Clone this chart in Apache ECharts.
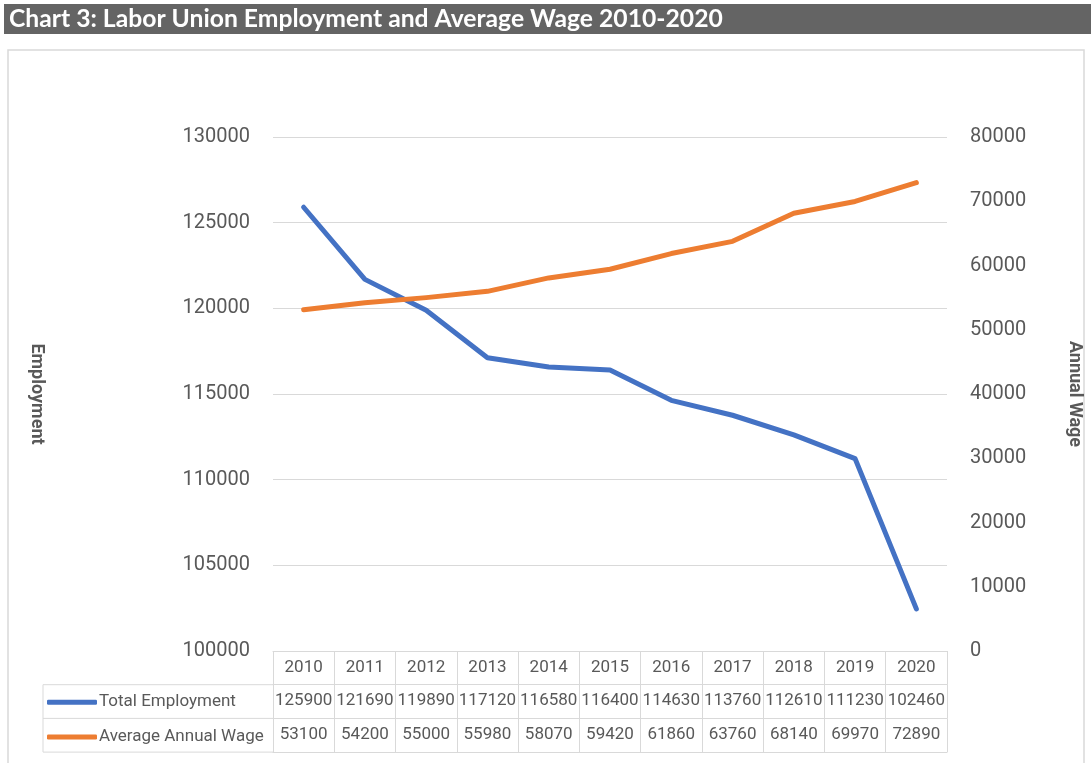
<!DOCTYPE html>
<html>
<head>
<meta charset="utf-8">
<script src="https://cdn.jsdelivr.net/npm/echarts@6/dist/echarts.min.js"></script>
<style>
  html, body {margin: 0; padding: 0; background: #fff;}
  #chart {width: 1091px; height: 763px;}
</style>
</head>
<body>
<div id="chart"></div>
<script>
const years = ['2010', '2011', '2012', '2013', '2014', '2015', '2016', '2017', '2018', '2019', '2020']
const employment = [125900, 121690, 119890, 117120, 116580, 116400, 114630, 113760, 112610, 111230, 102460]
const wage = [53100, 54200, 55000, 55980, 58070, 59420, 61860, 63760, 68140, 69970, 72890]
const seriesNames = ['Total Employment', 'Average Annual Wage']

const font = 'Roboto, sans-serif'
const gray = '#595959'
const lineGray = '#d9d9d9'

// plot area
const GRID_LEFT = 273
const GRID_RIGHT = 141
const GRID_TOP = 137
const GRID_BOTTOM = 112
const ROW_H = 33.7
const TABLE_LEFT = 43
const AXIS_Y = 763 - GRID_BOTTOM

// one category axis per table row, stacked below the plot
function tableAxis (data, offset, showLabel) {
  return {
    type: 'category',
    position: 'bottom',
    offset: offset,
    data: data,
    boundaryGap: true,
    axisLine: {show: true, lineStyle: {color: lineGray, width: 1}},
    axisTick: {show: showLabel, length: ROW_H, interval: 0, lineStyle: {color: lineGray}},
    axisLabel: {show: showLabel, interval: 0, margin: 8, color: gray, fontSize: 17, fontFamily: font},
    splitLine: {show: false}
  }
}

const chart = echarts.init(document.getElementById('chart'))

const option = {
  animation: false,
  title: {
    text: 'Chart 3: Labor Union Employment and Average Wage 2010-2020',
    left: 9,
    top: 5,
    padding: 0,
    textStyle: {color: '#fff', fontWeight: 'bold', fontSize: 24.7, fontFamily: 'Lato, sans-serif', lineHeight: 28}
  },
  legend: {
    orient: 'vertical',
    left: TABLE_LEFT + 4,
    top: AXIS_Y + ROW_H + 9,
    itemGap: ROW_H - 16,
    itemWidth: 50,
    itemHeight: 5,
    icon: 'roundRect',
    padding: 0,
    textStyle: {color: gray, fontSize: 17, fontFamily: font, lineHeight: 16, padding: [0, 0, 0, -3]},
    data: seriesNames
  },
  grid: {left: GRID_LEFT, right: GRID_RIGHT, top: GRID_TOP, bottom: GRID_BOTTOM},
  xAxis: [
    tableAxis(years, 0, true),
    tableAxis(employment.map(String), ROW_H, true),
    tableAxis(wage.map(String), ROW_H * 2, true),
    tableAxis([], ROW_H * 3, false)
  ],
  yAxis: [
    {
      type: 'value',
      min: 100000,
      max: 130000,
      interval: 5000,
      name: 'Employment',
      nameLocation: 'middle',
      nameGap: 228,
      nameRotate: -90,
      nameTextStyle: {color: gray, fontSize: 18, fontWeight: 'bold', fontFamily: font},
      axisLine: {show: false},
      axisTick: {show: false},
      axisLabel: {margin: 23, color: gray, fontSize: 20, fontFamily: font, formatter: v => String(v)},
      splitLine: {lineStyle: {color: lineGray, width: 1}}
    },
    {
      type: 'value',
      min: 0,
      max: 80000,
      interval: 10000,
      name: 'Annual Wage',
      nameLocation: 'middle',
      nameGap: 118,
      nameRotate: -90,
      nameTextStyle: {color: gray, fontSize: 18, fontWeight: 'bold', fontFamily: font},
      axisLine: {show: false},
      axisTick: {show: false},
      axisLabel: {margin: 23, color: gray, fontSize: 20, fontFamily: font, formatter: v => String(v)},
      splitLine: {show: false}
    }
  ],
  series: [
    {
      name: seriesNames[0],
      type: 'line',
      xAxisIndex: 0,
      yAxisIndex: 0,
      data: employment,
      showSymbol: false,
      color: '#4472c4',
      lineStyle: {width: 5, cap: 'round', join: 'round'}
    },
    {
      name: seriesNames[1],
      type: 'line',
      xAxisIndex: 0,
      yAxisIndex: 1,
      data: wage,
      showSymbol: false,
      color: '#ed7d31',
      lineStyle: {width: 5, cap: 'round', join: 'round'}
    }
  ],
  graphic: [
    // title bar
    {type: 'rect', z: -10, shape: {x: 4, y: 4, width: 1087, height: 30}, style: {fill: '#646464'}},
    // chart frame
    {type: 'rect', z: -10, shape: {x: 8, y: 50, width: 1076, height: 720}, style: {fill: '#fff', stroke: '#d9d9d9', lineWidth: 1.5}},
    // left column of the data table
    {type: 'line', shape: {x1: TABLE_LEFT, y1: AXIS_Y + ROW_H, x2: GRID_LEFT, y2: AXIS_Y + ROW_H}, style: {stroke: lineGray}},
    {type: 'line', shape: {x1: TABLE_LEFT, y1: AXIS_Y + ROW_H * 2, x2: GRID_LEFT, y2: AXIS_Y + ROW_H * 2}, style: {stroke: lineGray}},
    {type: 'line', shape: {x1: TABLE_LEFT, y1: AXIS_Y + ROW_H * 3, x2: GRID_LEFT, y2: AXIS_Y + ROW_H * 3}, style: {stroke: lineGray}},
    {type: 'line', shape: {x1: TABLE_LEFT, y1: AXIS_Y + ROW_H, x2: TABLE_LEFT, y2: AXIS_Y + ROW_H * 3}, style: {stroke: lineGray}}
  ]
}

chart.setOption(option)
</script>
</body>
</html>
